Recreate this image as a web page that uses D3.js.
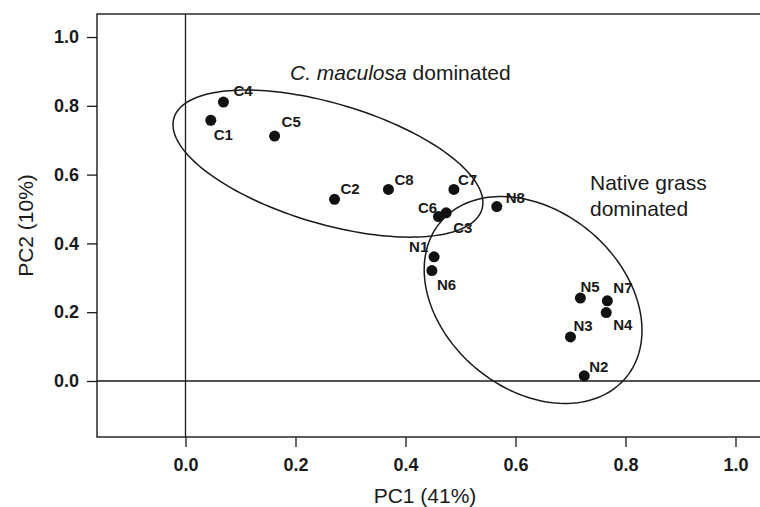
<!DOCTYPE html>
<html>
<head>
<meta charset="utf-8">
<script src="https://cdn.jsdelivr.net/npm/d3@7"></script>
<style>
  body { margin: 0; background: #fff; }
  svg { font-family: "Liberation Sans", Arial, Helvetica, sans-serif; }
</style>
</head>
<body>
<script>
// site scores on the first two principal components
var sites = ["C1", "C4", "C5", "C2", "C8", "C7", "C6", "C3",
             "N8", "N1", "N6", "N5", "N7", "N4", "N3", "N2"];
var pc1 = [0.046, 0.069, 0.162, 0.271, 0.369, 0.488, 0.460, 0.474,
           0.566, 0.452, 0.448, 0.718, 0.767, 0.765, 0.700, 0.725];
var pc2 = [0.758, 0.811, 0.712, 0.528, 0.557, 0.557, 0.478, 0.489,
           0.507, 0.361, 0.321, 0.241, 0.233, 0.199, 0.128, 0.015];

var xTicks = [0.0, 0.2, 0.4, 0.6, 0.8, 1.0];
var yTicks = [0.0, 0.2, 0.4, 0.6, 0.8, 1.0];

// group ellipses: centre and two semi-axis vectors, in PC units
var ellCentre = [[0.259, 0.632], [0.632, 0.2355]];
var ellAxisU = [[0.2800, -0.1326], [0.1685, -0.2262]];
var ellAxisV = [[-0.0311, -0.1677], [-0.1040, -0.1983]];

// label nudges (pixels from the dot)
var labelNudge = {
  C1: [3, 20], C4: [10, -6], C5: [7, -9], C2: [6, -5], C8: [6, -4],
  C7: [4, -4], C6: [-20.5, -4], C3: [7, 20], N8: [9, -4], N1: [-25, -5],
  N6: [5, 19], N5: [0, -6], N7: [6, -8], N4: [7, 17], N3: [3, -6], N2: [5, -4]
};

var W = 760, H = 507;
var frameL = 97, frameT = 14, frameR = 762, frameB = 437;

var svg = d3.select("body").append("svg")
    .attr("width", W)
    .attr("height", H);

var x = d3.scaleLinear().domain([-0.1609, 1.0482]).range([frameL, frameR]);
var y = d3.scaleLinear().domain([-0.1628, 1.0669]).range([frameB, frameT]);

var ink = "#1a1a1a";

// zero lines
svg.append("line")
    .attr("x1", frameL).attr("x2", frameR)
    .attr("y1", y(0)).attr("y2", y(0))
    .attr("stroke", ink).attr("stroke-width", 1.3);
svg.append("line")
    .attr("x1", x(0)).attr("x2", x(0))
    .attr("y1", frameT).attr("y2", frameB)
    .attr("stroke", ink).attr("stroke-width", 1.3);

// frame
svg.append("rect")
    .attr("x", frameL).attr("y", frameT)
    .attr("width", frameR - frameL).attr("height", frameB - frameT)
    .attr("fill", "none").attr("stroke", ink).attr("stroke-width", 1.4);

// axes
var xAxis = svg.append("g")
    .attr("transform", "translate(0," + frameB + ")")
    .call(d3.axisBottom(x).tickValues(xTicks).tickFormat(d3.format(".1f"))
          .tickSize(10).tickPadding(11));
var yAxis = svg.append("g")
    .attr("transform", "translate(" + frameL + ",0)")
    .call(d3.axisLeft(y).tickValues(yTicks).tickFormat(d3.format(".1f"))
          .tickSize(10).tickPadding(8));

[xAxis, yAxis].forEach(function(g) {
    g.select(".domain").remove();
    g.selectAll(".tick line").attr("stroke", ink).attr("stroke-width", 1.3);
    g.selectAll(".tick text")
        .attr("fill", ink)
        .attr("font-size", 18)
        .attr("font-weight", "bold")
        .attr("font-family", "'Liberation Sans', Arial, sans-serif");
});

// axis titles
svg.append("text")
    .attr("x", 425).attr("y", 503)
    .attr("text-anchor", "middle")
    .attr("font-size", 21)
    .attr("fill", ink)
    .text("PC1 (41%)");

svg.append("text")
    .attr("transform", "translate(33," + ((frameT + frameB) / 2) + ") rotate(-90)")
    .attr("text-anchor", "middle")
    .attr("font-size", 21)
    .attr("fill", ink)
    .text("PC2 (10%)");

// ellipses
var line = d3.line()
    .x(function(d) { return x(d[0]); })
    .y(function(d) { return y(d[1]); })
    .curve(d3.curveLinearClosed);

ellCentre.forEach(function(c, i) {
    var ring = d3.range(0, 2 * Math.PI, Math.PI / 90).map(function(t) {
        return [c[0] + Math.cos(t) * ellAxisU[i][0] + Math.sin(t) * ellAxisV[i][0],
                c[1] + Math.cos(t) * ellAxisU[i][1] + Math.sin(t) * ellAxisV[i][1]];
    });
    svg.append("path")
        .attr("d", line(ring))
        .attr("fill", "none")
        .attr("stroke", ink)
        .attr("stroke-width", 1.5);
});

// points
var siteData = sites.map(function(s, i) { return {site: s, pc1: pc1[i], pc2: pc2[i]}; });

var gdots = svg.selectAll("g.site")
    .data(siteData)
  .enter().append("g")
    .attr("class", "site");

gdots.append("circle")
    .attr("cx", function(d) { return x(d.pc1); })
    .attr("cy", function(d) { return y(d.pc2); })
    .attr("r", 5.5)
    .attr("fill", "#111");

gdots.append("text")
    .attr("x", function(d) { return x(d.pc1) + labelNudge[d.site][0]; })
    .attr("y", function(d) { return y(d.pc2) + labelNudge[d.site][1]; })
    .attr("font-size", 15)
    .attr("font-weight", "bold")
    .attr("fill", ink)
    .text(function(d) { return d.site; });

// group annotations
var t1 = svg.append("text")
    .attr("x", 290).attr("y", 80)
    .attr("font-size", 21)
    .attr("fill", ink);
t1.append("tspan").attr("font-style", "italic").text("C. maculosa");
t1.append("tspan").text(" dominated");

var t2 = svg.append("text")
    .attr("font-size", 21)
    .attr("fill", ink);
t2.append("tspan").attr("x", 590).attr("y", 190).text("Native grass");
t2.append("tspan").attr("x", 590).attr("y", 216).text("dominated");
</script>
</body>
</html>
